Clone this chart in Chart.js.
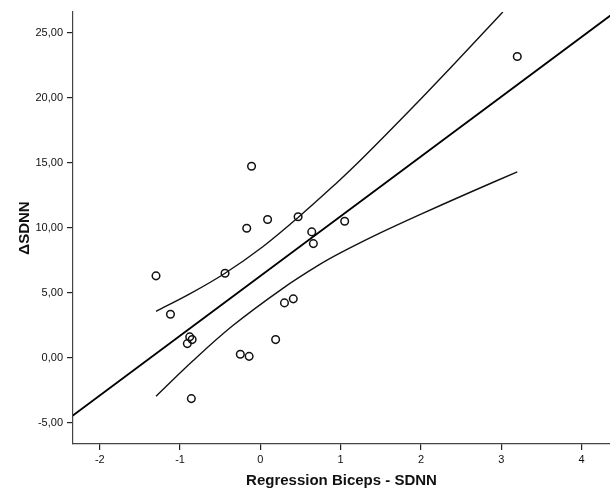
<!DOCTYPE html>
<html>
<head>
<meta charset="utf-8">
<script src="https://cdn.jsdelivr.net/npm/chart.js@4.4.1/dist/chart.umd.min.js"></script>
<style>
  html, body { margin: 0; padding: 0; background: #ffffff; overflow: hidden; }
  #wrap { width: 610px; height: 490px; position: relative; }
  canvas { display: block; }
</style>
</head>
<body>
<div id="wrap"><canvas id="c" width="610" height="490"></canvas></div>
<script>
// ---- data ----
const pointX = [3.20, -0.11, -0.17, 0.09, 0.47, 0.64, 0.66, 1.05, -1.30, -0.44, -1.12, 0.30, 0.41, -0.88, -0.85, -0.91, 0.19, -0.25, -0.14, -0.86];
const pointY = [23.18, 14.74, 9.97, 10.64, 10.85, 9.69, 8.79, 10.51, 6.31, 6.51, 3.36, 4.23, 4.54, 1.62, 1.41, 1.10, 1.41, 0.28, 0.12, -3.13];

const fitX = [-2.34, 4.36];
const fitY = [-4.45, 26.33];

const upperX = [-1.30, -0.88, -0.44, 0.03, 0.47, 0.94, 1.15, 1.56, 1.98, 2.39, 3.02];
const upperY = [3.58, 4.92, 6.51, 8.55, 10.80, 13.40, 14.62, 17.15, 19.80, 22.45, 26.60];

const lowerX = [-1.30, -0.84, -0.35, 0.28, 0.73, 1.02, 1.50, 1.98, 2.60, 3.20];
const lowerY = [-2.95, -0.22, 2.45, 5.35, 7.15, 8.15, 9.63, 11.00, 12.70, 14.31];

const xTickValues = [-2, -1, 0, 1, 2, 3, 4];
const xTickLabels = ['-2', '-1', '0', '1', '2', '3', '4'];
const yTickValues = [-5, 0, 5, 10, 15, 20, 25];
const yTickLabels = ['-5,00', '0,00', '5,00', '10,00', '15,00', '20,00', '25,00'];

const xTitle = 'Regression Biceps - SDNN';
const yTitle = 'ΔSDNN';

// ---- build ----
const toPts = (xs, ys) => xs.map((x, i) => ({ x: x, y: ys[i] }));
const FONT = '"Liberation Sans", Arial, sans-serif';
const INK = '#111111';

const ctx = document.getElementById('c').getContext('2d');
new Chart(ctx, {
  type: 'scatter',
  data: {
    datasets: [
      {
        type: 'line', data: toPts(upperX, upperY), showLine: true,
        borderColor: '#111111', borderWidth: 1.4, pointRadius: 0, tension: 0.35, fill: false
      },
      {
        type: 'line', data: toPts(lowerX, lowerY), showLine: true,
        borderColor: '#111111', borderWidth: 1.4, pointRadius: 0, tension: 0.35, fill: false
      },
      {
        type: 'line', data: toPts(fitX, fitY), showLine: true,
        borderColor: '#000000', borderWidth: 1.8, pointRadius: 0, tension: 0, fill: false
      },
      {
        data: toPts(pointX, pointY),
        pointStyle: 'circle', pointRadius: 3.8, pointBorderWidth: 1.5,
        pointBorderColor: '#111111', pointBackgroundColor: 'rgba(255,255,255,0)'
      }
    ]
  },
  options: {
    responsive: false,
    animation: false,
    events: [],
    layout: { autoPadding: false, padding: { top: 12, right: 0, left: 0, bottom: 0 } },
    plugins: { legend: { display: false }, tooltip: { enabled: false } },
    scales: {
      x: {
        type: 'linear', min: -2.334, max: 4.355,
        afterBuildTicks: (s) => { s.ticks = xTickValues.map(v => ({ value: v })); },
        afterFit: (s) => { s.height = 46; },
        ticks: {
          font: { family: FONT, size: 11 }, color: INK, padding: 3, maxRotation: 0, autoSkip: false,
          callback: (v) => { const i = xTickValues.indexOf(v); return i >= 0 ? xTickLabels[i] : ''; }
        },
        grid: { drawOnChartArea: false, drawTicks: true, tickLength: 6, color: '#222222', lineWidth: 1.2 },
        border: { display: true, color: '#444444', width: 1.2 },
        title: {
          display: true, text: xTitle, color: INK,
          font: { family: FONT, size: 15, weight: 'bold' }, padding: { top: 0, bottom: 0 }
        }
      },
      y: {
        type: 'linear', min: -6.62, max: 26.6,
        afterBuildTicks: (s) => { s.ticks = yTickValues.map(v => ({ value: v })); },
        afterFit: (s) => { s.width = 73; },
        ticks: {
          font: { family: FONT, size: 11 }, color: INK, padding: 4, autoSkip: false,
          callback: (v) => { const i = yTickValues.indexOf(v); return i >= 0 ? yTickLabels[i] : ''; }
        },
        grid: { drawOnChartArea: false, drawTicks: true, tickLength: 6, color: '#222222', lineWidth: 1.2 },
        border: { display: true, color: '#444444', width: 1.2 },
        title: {
          display: true, text: yTitle, color: INK,
          font: { family: FONT, size: 15, weight: 'bold' }, padding: { top: 16, bottom: 0 }
        }
      }
    }
  }
});
</script>
</body>
</html>
